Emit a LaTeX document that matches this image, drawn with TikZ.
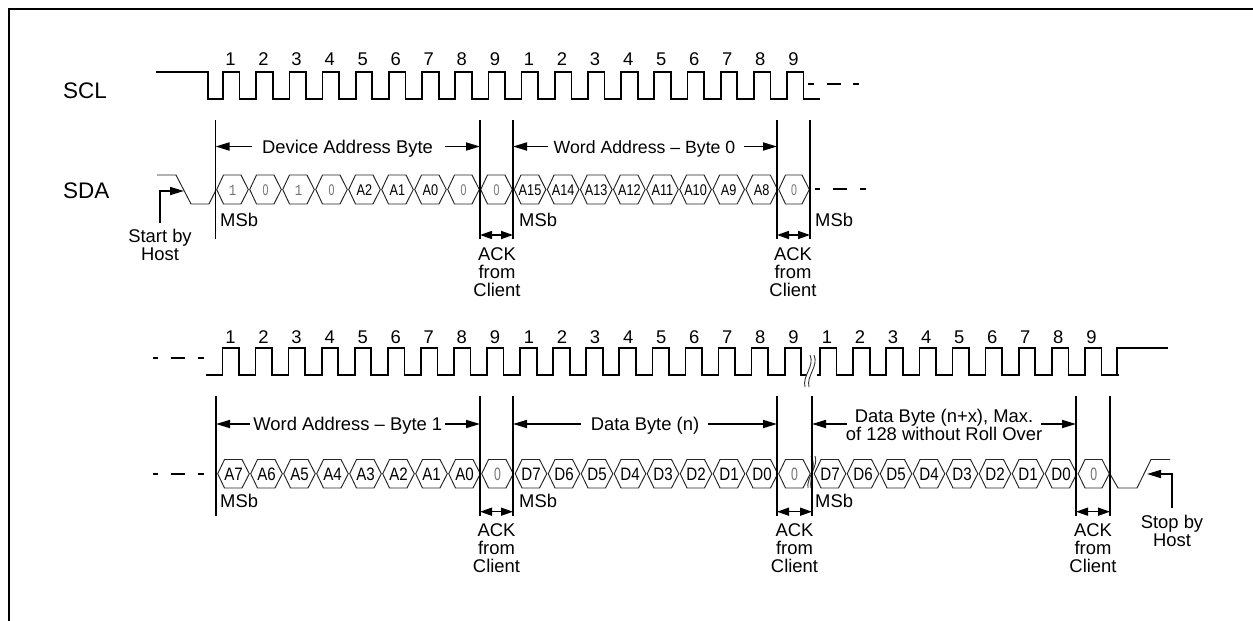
\documentclass[tikz,border=0pt]{standalone}
\usepackage{fontspec}
\setmainfont{Liberation Sans}
\newfontfamily\hexfont[FakeStretch=0.82]{Liberation Sans}
\newfontfamily\hexfontb[FakeStretch=0.84]{Liberation Sans}
\newfontfamily\bitfont[FakeStretch=0.8]{Liberation Mono}
\newfontfamily\zerofont[FakeStretch=0.68]{Liberation Sans}
\usetikzlibrary{arrows.meta,calc}
\definecolor{bitgray}{gray}{0.45}
\newcommand{\Bb}[1]{{\color{bitgray}\bitfont #1}}
\newcommand{\Bz}{{\color{bitgray}\zerofont 0}}
\tikzset{
  frameline/.style={line width=2pt,black},
  wave/.style={line width=1.7pt,black,line cap=rect,line join=miter},
  thinwave/.style={line width=0.95pt,black!85},
  barline/.style={line width=1.8pt,black},
  dashseg/.style={line width=1.7pt,black},
  arrowline/.style={line width=1.7pt,black,-{Triangle[length=14pt,width=8pt]}},
  ackarrow/.style={line width=1.5pt,black,{Triangle[length=12pt,width=8pt]}-{Triangle[length=12pt,width=8pt]}},
  breakline/.style={line width=0.9pt,black!80},
  lab/.style={inner sep=0pt,font=\fontsize{18.4}{18}\selectfont,text height=13pt,text depth=0pt},
  multi/.style={inner sep=0pt,font=\fontsize{18.4}{18}\selectfont,align=center,anchor=north},
  sig/.style={inner sep=0pt,font=\fontsize{22.5}{22.5}\selectfont,anchor=west,text height=16pt,text depth=0pt},
  hexlab/.style={inner sep=0pt,font=\hexfont\fontsize{15.5}{15.5}\selectfont,text height=11pt,text depth=0pt},
  hexlabbig/.style={hexlab/.style={inner sep=0pt,font=\hexfontb\fontsize{18}{18}\selectfont,text height=13pt,text depth=0pt}},
}
% pulses: x0 period count high low
\newcommand{\pulses}[5]{%
  \foreach \i in {1,...,#3}{%
    \pgfmathsetmacro{\xa}{#1+(\i-1)*#2}%
    \pgfmathsetmacro{\xb}{\xa+#2*0.5}%
    \pgfmathsetmacro{\xc}{\xa+#2}%
    \draw[wave] (\xa,#5) -- (\xa,#4) -- (\xb,#4) -- (\xb,#5) -- (\xc,#5);
  }%
}
% numbers 1..9: prefix x0 period y
\newcommand{\nums}[4]{%
  \foreach \i in {1,...,9}{%
    \pgfmathsetmacro{\xa}{#2+(\i-1)*#3}%
    \node[lab] (#1\i) at (\xa,#4) {\i};
  }%
}
% hexagon: name xl xr ytop ybot label
\newcommand{\hexa}[6]{%
  \pgfmathsetmacro{\ym}{(#4+#5)/2}%
  \draw[thinwave] (#2+0.7,\ym) -- (#2+7.5,#4) -- (#3-8,#4) -- (#3-0.7,\ym) -- (#3-8,#5) -- (#2+7.5,#5) -- cycle;
  \pgfmathsetmacro{\xm}{(#2+#3)/2}%
  \node[hexlab] (#1) at (\xm,\ym) {#6};
}
% row of hexes: prefix x0 period ytop ybot list
\newcommand{\hexrow}[6]{%
  \foreach \t [count=\i from 0] in {#6}{%
    \pgfmathsetmacro{\xl}{#2+\i*#3}%
    \pgfmathsetmacro{\xr}{\xl+#3}%
    \hexa{#1\i}{\xl}{\xr}{#4}{#5}{\t}
  }%
}
\begin{document}
\begin{tikzpicture}[x=1pt,y=-1pt]
\useasboundingbox (0,0) rectangle (1253,621);
\fill[white] (0,0) rectangle (1253,621);
% frame
\coordinate (fa) at (9,621);
\coordinate (fb) at (9,9);
\coordinate (fc) at (1253,9);
\draw[frameline] (fa) -- (fb) -- (fc);

% signal names
\node[sig] (scl) at (63,90) {SCL};
\node[sig] (sda) at (63,190) {SDA};

% --- first row: SCL
\draw[wave] (157,72) -- (208,72) -- (208,98.7) -- (223,98.7);
\pulses{223}{33.18}{17}{72}{98.7}
\draw[wave] (787,98.7) -- (787,72) -- (803.5,72) -- (803.5,98.7) -- (819,98.7);
\nums{ua}{230.5}{33.05}{59}
\nums{ub}{529}{33.05}{59}
\draw[dashseg] (808,84) -- (814,84) (827,84) -- (841,84) (853,84) -- (859,84);

% --- first row: SDA
\draw[thinwave] (157,175) -- (176,175) -- (191,204) -- (209,204) -- (216,190);
\hexrow{ha}{216}{33}{175}{204}{\Bb{1},\Bz,\Bb{1},\Bz,A2,A1,A0,\Bz,\Bz}
\hexrow{hb}{513.5}{33.1}{175}{204}{A15,A14,A13,A12,A11,A10,A9,A8}
\hexa{hc}{778}{810}{175}{204}{\Bz}
\draw[dashseg] (815,189) -- (820,189) (833,189) -- (847,189) (860,189) -- (866,189);

% bars first row
\foreach \n/\x in {a/215.5,b/480,c/513,d/777,e/810}{
  \coordinate (u\n t) at (\x,120);
  \coordinate (u\n b) at (\x,239);
  \draw[barline] (u\n t) -- (u\n b);
}
\node[lab] (dab) at (347.5,146.5) {Device Address Byte};
\draw[arrowline] ([xshift=-10pt]dab.west) -- (dab.west -| uat);
\draw[arrowline] ([xshift=12pt]dab.east) -- (dab.east -| ubt);
\node[lab,font=\fontsize{17.7}{18}\selectfont] (wa0) at (644.5,146.5) {Word Address – Byte 0};
\draw[arrowline] ([xshift=-5pt]wa0.west) -- (wa0.west -| uct);
\draw[arrowline] ([xshift=8pt]wa0.east) -- (wa0.east -| udt);
\node[lab,anchor=west] (ma1) at (220,220) {MSb};
\node[lab,anchor=west] (ma2) at (519,219.5) {MSb};
\node[lab,anchor=west] (ma3) at (815,219.5) {MSb};
\coordinate (ak1) at (480,235); \coordinate (ak2) at (513,235);
\coordinate (ak3) at (777,235); \coordinate (ak4) at (810,235);
\draw[ackarrow] (ak1) -- (ak2);
\draw[ackarrow] (ak3) -- (ak4);
\node[multi] (ac1) at (497,247.5) {ACK\\from\\Client};
\node[multi] (ac2) at (793,247.5) {ACK\\from\\Client};
\node[multi] (start) at (160,228.5) {Start by\\Host};
\coordinate (starttip) at (184,191);
\draw[arrowline] ([yshift=6pt]start.north) |- (starttip);

% --- second row: SCL
\draw[dashseg] (153,357.7) -- (158,357.7) (171,357.7) -- (185,357.7) (198,357.7) -- (204,357.7);
\draw[wave] (207,374.7) -- (222.5,374.7);
\pulses{222.5}{33.07}{18}{348}{374.7}
\draw[wave] (817,374.7) -- (820,374.7);
\pulses{820}{33.12}{9}{348}{374.7}
\draw[wave] (1116.7,374.7) -- (1116.7,348) -- (1167,348);
% break marks
\fill[white] (806.5,372) rectangle (817,377);
\draw[breakline] (810,355) .. controls (815,366) and (802,376) .. (805,387);
\draw[breakline] (814,355) .. controls (819,366) and (806,376) .. (809,387);
\nums{la}{230.5}{33.05}{337}
\nums{lb}{529}{33.05}{337}
\nums{lc}{827}{33.05}{337}

% --- second row: SDA
\draw[dashseg] (153,474) -- (158,474) (171,474) -- (185,474) (198,474) -- (204,474);
\begin{scope}[hexlabbig]
\hexrow{hd}{217}{33}{459.5}{488}{A7,A6,A5,A4,A3,A2,A1,A0,\Bz}
\hexrow{he}{514.5}{33}{459.5}{488}{D7,D6,D5,D4,D3,D2,D1,D0}
\hexa{hf}{778}{811}{459.5}{488}{\Bz}
\hexrow{hg}{813.5}{33}{459.5}{488}{D7,D6,D5,D4,D3,D2,D1,D0}
\hexa{hh}{1077.5}{1110}{459.5}{488}{\Bz}
\end{scope}
\draw[thinwave] (1110,474) -- (1118,488) -- (1137,488) -- (1151,459.5) -- (1170,459.5);
\draw[breakline] (811,456) .. controls (817,466) and (809,478) .. (811,488);
\draw[breakline] (815,456) .. controls (819,466) and (806,478) .. (808,488);

\foreach \n/\x in {a/216,b/480,c/513,d/777,e/812,f/1076,g/1110}{
  \coordinate (l\n t) at (\x,396);
  \coordinate (l\n b) at (\x,515.7);
  \draw[barline] (l\n t) -- (l\n b);
}
\node[lab] (wa1) at (347.8,424) {Word Address – Byte 1};
\draw[arrowline] ([xshift=-3pt]wa1.west) -- (wa1.west -| lat);
\draw[arrowline] ([xshift=3pt]wa1.east) -- (wa1.east -| lbt);
\node[lab] (dbn) at (645,424) {Data Byte (n)};
\draw[arrowline] ([xshift=-10pt]dbn.west) -- (dbn.west -| lct);
\draw[arrowline] ([xshift=9pt]dbn.east) -- (dbn.east -| ldt);
\node[multi] (dbx) at (944,408.5) {Data Byte (n+x), Max.\\of 128 without Roll Over};
\coordinate (dxl) at (847,424);
\coordinate (dxr) at (1041,424);
\draw[arrowline] (dxl) -- (dxl -| let);
\draw[arrowline] (dxr) -- (dxr -| lft);
\node[lab,anchor=west] (mb1) at (220,501) {MSb};
\node[lab,anchor=west] (mb2) at (519,501) {MSb};
\node[lab,anchor=west] (mb3) at (815,501) {MSb};
\coordinate (bk1) at (480,511.7); \coordinate (bk2) at (513,511.7);
\coordinate (bk3) at (777,511.7); \coordinate (bk4) at (812,511.7);
\coordinate (bk5) at (1076,511.7); \coordinate (bk6) at (1110,511.7);
\draw[ackarrow] (bk1) -- (bk2);
\draw[ackarrow] (bk3) -- (bk4);
\draw[ackarrow] (bk5) -- (bk6);
\node[multi] (ad1) at (496.5,523.5) {ACK\\from\\Client};
\node[multi] (ad2) at (794.5,523.5) {ACK\\from\\Client};
\node[multi] (ad3) at (1093,523.5) {ACK\\from\\Client};
\node[multi] (stop) at (1172,515.2) {Stop by\\Host};
\coordinate (stoptip) at (1147,474);
\draw[arrowline] ([yshift=7pt]stop.north) |- (stoptip);
\end{tikzpicture}
\end{document}
